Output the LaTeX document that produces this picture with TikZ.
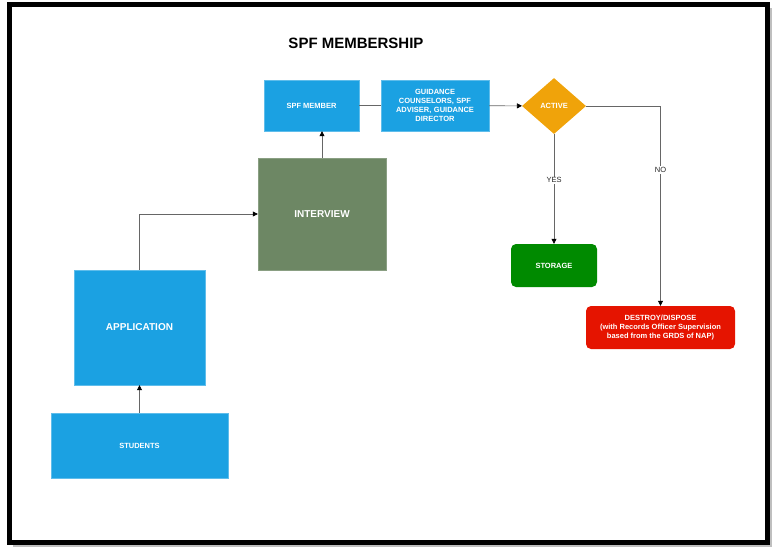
\documentclass[tikz,border=0pt]{standalone}
\usepackage{fontspec}
\setmainfont{Liberation Sans}
\usetikzlibrary{positioning, calc, arrows.meta, shapes.geometric}
\definecolor{procblue}{HTML}{1BA1E2}
\definecolor{procedge}{HTML}{5FBDEB}
\definecolor{interviewgreen}{HTML}{6D8764}
\definecolor{activeorange}{HTML}{F0A30A}
\definecolor{storagegreen}{HTML}{008A00}
\definecolor{destroyred}{HTML}{E51400}
\tikzset{
  flow/.style={-{Triangle[length=5, width=5, color=black]}, draw=black!60, semithick},
  link/.style={-, draw=black!60, semithick},
  process/.style={draw=procedge, fill=procblue, text=white, font=\bfseries\fontsize{7.5}{9}\selectfont, align=center},
  bigprocess/.style={process, font=\bfseries\fontsize{10}{12}\selectfont},
  decision/.style={diamond, aspect=1.143, fill=activeorange, text=white, inner sep=0, minimum width=64, minimum height=56, font=\bfseries\fontsize{7.5}{9}\selectfont},
  terminal/.style={rounded corners=5, text=white, align=center, font=\bfseries\fontsize{7.5}{9}\selectfont},
  edgelabel/.style={fill=white, inner sep=1, text=black!85, font=\fontsize{7.5}{9}\selectfont},
  every node/.style={inner sep=0}
}
\begin{document}
\begin{tikzpicture}[x=1pt, y=-1pt]
    \useasboundingbox (0,0) rectangle (778,550);
    % frame
    \draw[black!25, line width=3] (12.5,545.5) -- (770.5,545.5) -- (770.5,7.5);
    \draw[black, line width=5] (9.5,4.5) rectangle (767.5,542.5);
    \node[font=\bfseries\fontsize{15}{18}\selectfont] (title) at (356,43) {SPF MEMBERSHIP};
    % boxes
    \node[process, minimum width=95, minimum height=51] (member) at (311.5,105.5) {SPF MEMBER};
    \node[process, minimum width=108, minimum height=51, text width=104] (guidance) at (435,105.5) {GUIDANCE\\COUNSELORS, SPF\\ADVISER, GUIDANCE\\DIRECTOR};
    \node[decision] (active) at (554,106) {ACTIVE};
    \node[terminal, fill=storagegreen, minimum width=86, minimum height=43] (storage) at (554,265.5) {STORAGE};
    \node[terminal, fill=destroyred, minimum width=149, minimum height=43] (destroy) at (660.5,327.5) {DESTROY/DISPOSE\\(with Records Officer Supervision\\based from the GRDS of NAP)};
    \node[bigprocess, draw=interviewgreen!80, fill=interviewgreen, minimum width=128, minimum height=112] (interview) at (322,214) {INTERVIEW};
    \node[bigprocess, minimum width=131, minimum height=115] (application) at (139.5,327.5) {APPLICATION};
    \node[process, minimum width=177, minimum height=65] (students) at (139.5,445.5) {STUDENTS};
    % connectors
    \draw[flow] (students) -- (application);
    \draw[flow] (application.north) |- (interview.west);
    \draw[flow] (interview.north) -- (interview.north |- member.south);
    \draw[link] (member) -- (guidance);
    \draw[flow] (guidance) -- (active);
    \draw[flow] (active.south) -- (storage.north) node[edgelabel, pos=0.42] {YES};
    \draw[flow] (active.east) -| (destroy.north) node[edgelabel, pos=0.66] {NO};
\end{tikzpicture}
\end{document}
